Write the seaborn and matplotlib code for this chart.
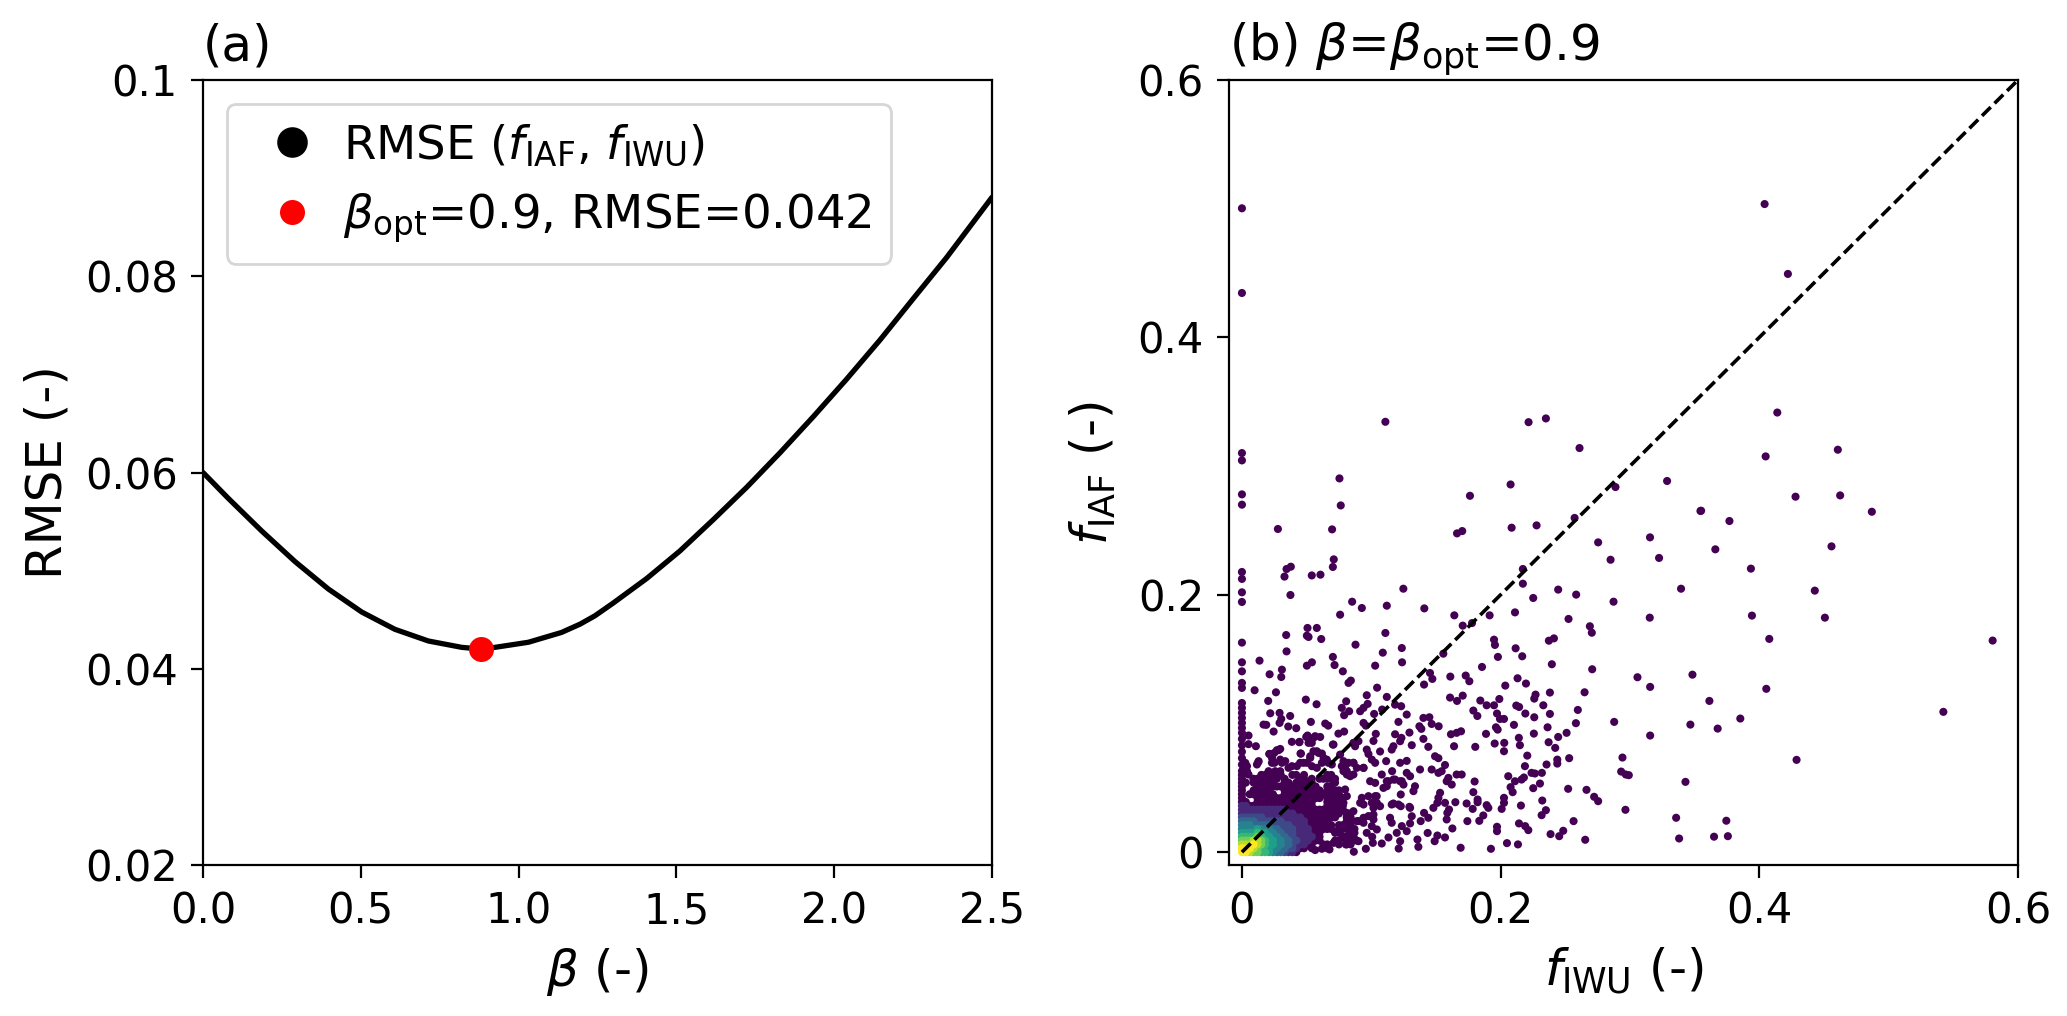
import numpy as np
import pandas as pd
import matplotlib
matplotlib.use("Agg")
import matplotlib.pyplot as plt
from matplotlib.lines import Line2D
import seaborn as sns

# ---- panel (a) curve
beta = [0, .080, .186, .292, .397, .503, .608, .714, .820, .883, .925, 1.031, 1.136, 1.195, 1.242, 1.3, 1.406, 1.511, 1.617, 1.723, 1.828, 1.934, 2.039, 2.145, 2.25, 2.356, 2.5]
rmse = [.0600, .05737, .05404, .05091, .04813, .04578, .04402, .04283, .04218, .0420, .04218, .0427, .0437, .04455, .0454, .0467, .0492, .0520, .0552, .0585, .0620, .0657, .0695, .0735, .0777, .0819, .08805]
beta_opt = [0.88]
rmse_opt = [0.042]

# ---- panel (b) isolated points (f_IWU, f_IAF)
far_points = [(.4139,.3416),(.4049,.3075),(.4607,.3127),(.428,.2762),(.4625,.2772),(.487,.2645),(.355,.2653),(.3769,.2573),
(.366,.2353),(.4558,.2376),(.3935,.2203),(.4429,.2032),(.3943,.1838),(.4507,.1822),(.4077,.1657),(.5804,.1644),(.4054,.1269),
(.3614,.1175),(.3853,.1038),(.3678,.096),(.5423,.109),(.4288,.0717),(.3745,.0244),(.3757,.0124),(.365,.012),(.4041,.5036),(.4221,.4493)]

upper_points = [(0,.5003),(0,.4345),(.1109,.3344),(.2216,.3341),(.235,.337),(.261,.314),(0,.3101),(0,.3044),(0,.278),(0,.27),
(.0754,.2904),(.0764,.2694),(.2077,.2857),(.1763,.2769),(.2888,.2837),(.3287,.2884),(.3545,.2651),(.0278,.2511),(.0697,.2508),
(.1663,.2477),(.1703,.2495),(.2085,.2521),(.2278,.2539),(.2572,.2597),(.2754,.2407),(.3155,.2446),(.285,.2272),(.3225,.2286),
(.071,.2275),(.0703,.2216),(0,.2177),(0,.2123),(.0345,.22),(.0378,.2218),(.0329,.2141),(.054,.215),(.0607,.2156),(.2172,.22),
(.2172,.2086),(.1248,.2047),(.2445,.204),(.2584,.2001),(.3395,.2047),(0,.2019),(0,.1944),(.0375,.1998),(.2252,.1975),(.0852,.1946),
(.112,.1915),(.2873,.1946)]

middle_points = [(.0927,.1897),(.141,.1894),(.2111,.1863),(.1915,.184),(.1642,.184),(.0759,.1845),(.2525,.1812),(.3153,.1822),
(.269,.1755),(.2705,.1705),(.1779,.178),(.1707,.176),(.0507,.1742),(.0579,.1742),(.0342,.1687),(.0502,.1682),(.0515,.1672),
(.0613,.1656),(.1109,.1703),(.0878,.1612),(0,.1628),(.1949,.1651),(.1956,.161),(.2373,.1643),(.2412,.1661),(.2116,.1584),
(.2167,.1522),(.1979,.1517),(.1236,.1586),(.1089,.155),(.0345,.156),(.1557,.1542),(.0136,.1488),(.0703,.1517),(.0716,.1454),
(.0502,.1449),(.0541,.1475),(.103,.1449),(.1238,.1475),(.1856,.1439),(.2396,.146),(.2708,.1421),(.3058,.1359),(.3156,.1284),
(.3483,.1379),(0,.1475),(0,.1405),(.0214,.1382),(.0309,.1418),(.0304,.1361),(.078,.1405),(.0824,.1315),(.0842,.1333),(.1611,.1364),
(.1454,.1392),(.1472,.1346),(.1408,.1302),(.173,.1372),(.1758,.1328),(.2131,.1351),(.2196,.131),(.2036,.1294),(0,.1315),(0,.1276),
(.0098,.1258),(.0263,.1242),(.1045,.1278),(.0965,.1219),(.112,.1206),(.0806,.1172),(.0203,.1175),(.0494,.1185),(.0577,.1149),
(.1609,.1201),(.1663,.1175),(.1707,.1216),(.1843,.1178),(.199,.119),(.227,.1224),(.226,.1193),(.2381,.124),(.2649,.1242),
(.1892,.1141),(.1949,.1141),(.2121,.1139),(.2143,.1128),(.233,.1141),(.2597,.1105),(.1789,.11),(.182,.1058),(.1972,.1077),
(.1995,.1035),(.2026,.1035),(.2191,.1077),(.226,.1048),(.2381,.1074),(.2582,.1002),(.2878,.1012),(.3467,.0991),(0,.1159),(0,.1121),
(0,.1082),(0,.1043),(0,.1004),(0,.0965),(.0219,.1079),(.0291,.1082),(.0304,.1035),(.0291,.1004),(.0373,.1058),(.0167,.0991),
(.0188,.0989),(.0245,.0937),(.0358,.0976),(.042,.0963),(.0533,.1012),(.0644,.0999),(.0667,.0983),(.0772,.1121),(.0829,.1095),
(.079,.1064),(.0914,.1095),(.094,.1121),(.0972,.1152),(.1022,.1074),(.1084,.1108),(.1184,.1146),(.1231,.1134),(.1274,.1069),
(.121,.1012),(.094,.1004),(.0958,.0983),(.1403,.1043),(.1449,.1048),(.1467,.0996),(.1521,.0978),(.1372,.0978),(.1694,.0939),
(.166,.0927),(.1616,.0916),(.1887,.0919),(.1964,.097),(.1977,.0952),(.2103,.0989),(.2257,.0921),(.2363,.097),(.251,.0927),
(.2445,.0895),(.3156,.0906),(.1035,.0919),(.1184,.0916),(.1295,.0929),(.1233,.0888),(.1017,.0864),(.1403,.088),(.1387,.0958),
(.1223,.0862),(.1313,.0831),(.1171,.0823),(.1158,.0797),(.1441,.0818),(.164,.0823),(.1804,.0818),(.1954,.0844),(.2028,.0849),
(.2141,.0888),(.2149,.0831),(.2371,.0854),(.2422,.081),(.2026,.0784),(.0965,.0797),(.0978,.0763),(.1068,.0782),(.0867,.0849),
(.0708,.0836),(.0746,.0921),(.079,.0937)]

lower_points = [(.0386,.0857),(.0443,.0854),(.0507,.0906),(.0566,.0901),(.0605,.0895),(.054,.0849),(.0579,.0784),(.0618,.0766),
(.0656,.0719),(.0108,.0823),(.0051,.0906),(.0051,.0839),(0,.0927),(0,.088),(0,.083),(0,.078),(0,.073),(0,.068),(0,.063),
(.0283,.0792),(.025,.0771),(.0211,.0763),(.0456,.0766),(.0126,.0699),(.0296,.0719),(.0232,.0694),(.045,.0694),(.0528,.0732),
(.2206,.075),(.1493,.0745),(.1519,.073),(.157,.0677),(.1377,.0642),(.1467,.0642),(.1519,.0616),(.1544,.0629),(.1596,.0577),
(.166,.0603),(.1699,.0603),(.1583,.0551),(.1622,.0525),(.1799,.0549),(.2188,.0668),(.2355,.0681),(.2438,.0719),(.2438,.0688),
(.253,.073),(.2942,.0735),(.2932,.0626),(.2968,.0603),(.2991,.0598),(.3429,.0546),(.2239,.0616),(.2265,.0611),(.2319,.0616),
(.2059,.059),(.2111,.0551),(.2162,.0564),(.218,.058),(.2252,.0497),(.2304,.0533),(.2522,.0492),(.2664,.0484),(.2723,.043),
(.2754,.0396),(.1789,.0466),(.1822,.0409),(.1822,.0388),(.1892,.0365),(.1905,.0344),(.1737,.0378),(.1784,.0336),(.165,.0388),
(.2077,.0505),(.2093,.0466),(.2026,.0422),(.2026,.0383),(.2008,.0336),(.2157,.0362),(.2322,.0401),(.235,.0326),(.2317,.0287),
(.2965,.0329),(.1866,.0285),(.1835,.0243),(.1743,.0241),(.1972,.0197),(.1972,.0163),(.2142,.0223),(.219,.0202),(.2214,.0171),
(.2564,.0241),(.2484,.0166),(.2453,.0124),(.2386,.014),(.2654,.0096),(.3357,.0267),(.338,.0106),(.2049,.007),(.2134,.006),
(.1691,.0034),(.1925,.0026),(.1364,.0041),(.1212,.0028),(.1357,.0098),(.1223,.0085),(.1133,.0114),(.1081,.0067),(.0958,.0026),
(.0865,.0003),(.1012,.0072),(.1007,.0119),(.0883,.0091),(.0862,.0091),(.0803,.006),(.0677,.0021),(.0618,.0026),(.0566,.0016),
(.149,.0085),(.1511,.0129),(.157,.0114),(.1436,.0149),(.1627,.0184),(.1583,.0254),(.1588,.0305),(.1601,.0331),(.1519,.0422),
(.1532,.0461),(.148,.0344),(.157,.0383),(.1511,.0383),(.1408,.0305),(.1382,.0241),(.1441,.0267),(.1295,.0352),(.1313,.0279),
(.13,.0223),(.1236,.0202),(.1197,.015),(.1274,.0163),(.1145,.0267),(.1158,.0228),(.1043,.0176),(.0965,.015),(.1017,.0254),
(.094,.0267),(.0888,.0241),(.0862,.0318),(.0914,.0383),(.103,.0435),(.1043,.0383),(.1017,.0344),(.1171,.0378),(.1228,.0357),
(.1228,.0448),(.1326,.0474),(.13,.059),(.1338,.0512),(.1249,.0525),(.112,.0512),(.1081,.0603),(.112,.0551),(.1171,.0564),
(.1223,.0551),(.1274,.0616),(.0991,.0551),(.103,.0538),(.1161,.0629),(.1274,.0709),(.1223,.0694),(.1115,.0707),(.103,.0694),
(.1004,.0719),(.0862,.0694),(.0811,.0629),(.0798,.0668),(.0837,.059),(.094,.0655),(.0798,.0487),(.0811,.0435),(.0785,.0383),
(.0811,.0305),(.0759,.0202),(.0708,.0072)]

near_points = [(.0445,.0857),(.0497,.0895),(.0515,.0849),(.0553,.0888),(.0703,.0836),(.0862,.0849),(.0901,.0862),(.0875,.0823),
(.0214,.0763),(.027,.0792),(.0296,.0802),(.0232,.0732),(.0553,.0784),(.0528,.0745),(.0592,.0771),(.0631,.0732),(.0644,.0707),
(.0453,.0766),(.0252,.0694),(.0129,.0707),(.0116,.0681),(.0309,.0694),(.0335,.0707),(.0257,.0629),(.0296,.0629),(.0206,.0629),
(.0193,.0577),(.018,.0538),(.036,.0655),(.0386,.0668),(.0425,.0668),(.0476,.0694),(.0502,.0694),(.0541,.0668),(.0579,.0655),
(.0618,.0694),(.0669,.0694),(.0695,.0681),(.0759,.0758),(.0785,.0707),(.0824,.0694),(.0862,.0694),(.0772,.0668),(.0785,.0629),
(.0888,.0655),(.094,.0655),(.0811,.0603),(.0862,.0603),(.0695,.0564),(.0039,.0668),(.0051,.0603),(.009,.0564),(.0026,.0694),
(.0039,.0629),(.0901,.0241),(.094,.0228),(.0978,.028),(.1017,.0292),(.1004,.0202),(.0875,.0098),(.0901,.0085),(.0927,.0422),
(.0978,.0435),(.094,.037),(.1004,.0383),(.1042,.0435),(.1068,.0357),(.1133,.0551),(.1094,.0499),(.1184,.0564),(.1236,.0551),
(.1158,.037),(.121,.037),(.13,.0344)]

# ---- dense core of panel (b): density class 0-9 read by eye, '.' where the picture is white
core_x = [0,.003,.006,.009,.012,.015,.018,.021,.024,.027,.03,.033,.036,.039,.042,.045,.048,.051,.054,.057,.06,.063,.066,.069,.072,.075,.078,.081,.084,.087]
core_y = [0,.003,.006,.009,.012,.015,.018,.021,.024,.027,.03,.033,.036,.039,.042,.045,.048,.051,.054,.057,.06]
core_density = [
"998776654332110...............",
"99987655443322100.0...0.......",
"8889876554433211100..00..0.00.",
"777887655443322111000...00.00.",
"666676554433221111100.....000.",
"555565544332221111000...00..00",
"444454443322221111000000.00000",
"444333332222211110000000.0000.",
"33332222222111111000000....00.",
"2222221111111111000000000..00.",
"11111111111111000000000000.00.",
"111111111111000000000000000...",
"1100000000000000000...00000...",
"00..000000000000000...0000....",
"0...000000000.0000000.00000...",
"0.0000000..000000000000000....",
"0..00000...0000000000.0000....",
"0...000000000000.000..00......",
"00.000000..00.00000.....0.....",
"0..000.0.0.0...00.0.000.0.....",
"0....00.0.0..00.0.....00......",
]

sns.set_theme(style="ticks", rc={
    "axes.edgecolor": "black", "axes.linewidth": 0.8, "xtick.color": "black", "ytick.color": "black",
    "xtick.major.size": 4.5, "ytick.major.size": 4.5, "xtick.major.width": 0.8, "ytick.major.width": 0.8,
    "xtick.major.pad": 4.5, "ytick.major.pad": 4.5,
    "text.color": "black", "axes.labelcolor": "black", "font.family": "DejaVu Sans"})

fig = plt.figure(figsize=(10.335, 5.08), dpi=200, facecolor="white")
W, H = 2067, 1016
ax_a = fig.add_axes([203/W, (H-865)/H, 789/W, 785/H])
ax_b = fig.add_axes([1229/W, (H-865)/H, 789/W, 785/H])

# (a)
sns.lineplot(x=beta, y=rmse, color="black", lw=1.9, ax=ax_a, legend=False, errorbar=None, sort=False)
sns.scatterplot(x=beta_opt, y=rmse_opt, color="red", s=81, linewidth=0, ax=ax_a, legend=False, zorder=3)
ax_a.set_xlim(0, 2.5); ax_a.set_ylim(0.02, 0.1)
ax_a.set_xticks([0, .5, 1, 1.5, 2, 2.5]); ax_a.set_xticklabels(["0.0", "0.5", "1.0", "1.5", "2.0", "2.5"])
ax_a.set_yticks([.02, .04, .06, .08, .1]); ax_a.set_yticklabels(["0.02", "0.04", "0.06", "0.08", "0.1"])
ax_a.tick_params(labelsize=15)
ax_a.set_xlabel(r"$\beta$ (-)", fontsize=18, labelpad=5)
ax_a.set_ylabel("RMSE (-)", fontsize=18, labelpad=5)
ax_a.set_title("(a)", loc="left", fontsize=18, pad=7)
handles = [Line2D([], [], ls="", marker="o", color="black", ms=10),
           Line2D([], [], ls="", marker="o", color="red", ms=9, mew=0)]
ax_a.legend(handles, [r"RMSE ($f_\mathrm{IAF}$, $f_\mathrm{IWU}$)", r"$\beta_\mathrm{opt}$=0.9, RMSE=0.042"],
            loc="upper left", fontsize=16.8, frameon=True, edgecolor="0.8", framealpha=0.8, handletextpad=0.1,
            bbox_to_anchor=(0.03, 0.97), borderaxespad=0)

# (b)
sparse = far_points + upper_points + middle_points + lower_points + near_points
rows = []
for (px, py) in sparse:
    rows.append((px, py, 0))
for yv, row in zip(core_y, core_density):
    for xv, ch in zip(core_x, row):
        if ch != ".":
            rows.append((xv, yv, int(ch)))
df = pd.DataFrame(rows, columns=["iwu", "iaf", "density"]).sort_values("density", kind="stable")
sns.scatterplot(data=df, x="iwu", y="iaf", hue="density", palette="viridis", hue_norm=(0, 9),
                s=8.5, linewidth=0, legend=False, ax=ax_b)
ax_b.plot([0, .6], [0, .6], color="black", lw=1.3, dashes=(3.4, 1.5))
ax_b.set_xlim(-0.01, 0.6); ax_b.set_ylim(-0.01, 0.6)
ax_b.set_xticks([0, .2, .4, .6]); ax_b.set_xticklabels(["0", "0.2", "0.4", "0.6"])
ax_b.set_yticks([0, .2, .4, .6]); ax_b.set_yticklabels(["0", "0.2", "0.4", "0.6"])
ax_b.tick_params(labelsize=15)
ax_b.set_xlabel(r"$f_\mathrm{IWU}$ (-)", fontsize=18, labelpad=5)
ax_b.set_ylabel(r"$f_\mathrm{IAF}$ (-)", fontsize=18, labelpad=7)
ax_b.set_title(r"(b) $\beta$=$\beta_\mathrm{opt}$=0.9", loc="left", fontsize=18, pad=7)

fig.savefig("out.png", dpi=200, facecolor="white")
